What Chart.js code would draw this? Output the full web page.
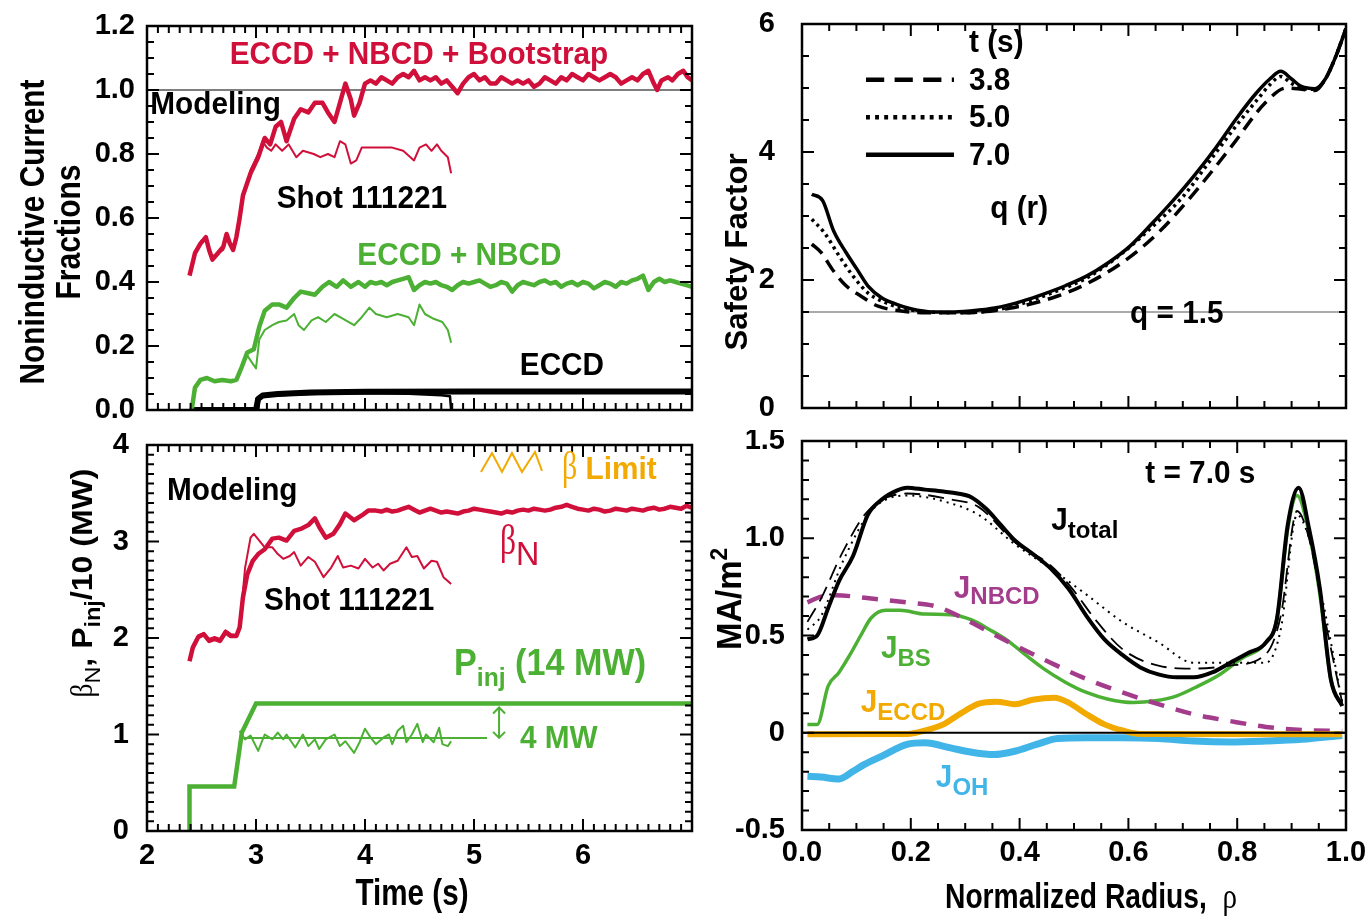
<!DOCTYPE html>
<html>
<head>
<meta charset="utf-8">
<title>Noninductive current fractions, beta and current profiles</title>
<script src="https://cdn.jsdelivr.net/npm/chart.js@4.4.1/dist/chart.umd.min.js"></script>
<style>
  html, body { margin: 0; padding: 0; background: #fff; }
  #wrap { position: relative; width: 1371px; height: 916px; overflow: hidden; background: #fff; }
  #wrap canvas { position: absolute; }
</style>
</head>
<body>
<div id="wrap">
  <canvas id="cTL"></canvas>
  <canvas id="cBL"></canvas>
  <canvas id="cTR"></canvas>
  <canvas id="cBR"></canvas>
</div>
<script>
// ===================== DATA =====================

// top left: noninductive current fractions vs time (s)
const fracAllModel = [[2.39,0.42],[2.44,0.49],[2.49,0.52],[2.54,0.54],[2.57,0.50],[2.60,0.47],[2.65,0.49],[2.70,0.51],[2.73,0.55],[2.76,0.52],[2.79,0.50],[2.82,0.54],[2.85,0.60],[2.88,0.67],[2.95,0.74],[3.02,0.79],[3.08,0.85],[3.13,0.83],[3.18,0.885],[3.23,0.90],[3.28,0.84],[3.35,0.91],[3.41,0.94],[3.48,0.93],[3.54,0.96],[3.61,0.96],[3.66,0.93],[3.72,0.90],[3.77,0.96],[3.82,1.02],[3.87,0.97],[3.90,0.92],[3.95,0.96],[4.00,1.02],[4.05,1.03],[4.10,1.02],[4.15,1.04],[4.20,1.03],[4.25,1.02],[4.30,1.04],[4.35,1.05],[4.40,1.04],[4.45,1.06],[4.50,1.03],[4.55,1.04],[4.60,1.03],[4.65,1.04],[4.70,1.02],[4.75,1.03],[4.80,1.01],[4.85,0.99],[4.90,1.02],[4.95,1.04],[5.00,1.05],[5.05,1.03],[5.10,1.04],[5.15,1.02],[5.20,1.02],[5.25,1.04],[5.30,1.03],[5.35,1.02],[5.40,1.03],[5.45,1.02],[5.50,1.03],[5.55,1.01],[5.60,1.02],[5.65,1.04],[5.70,1.03],[5.75,1.02],[5.80,1.04],[5.85,1.03],[5.90,1.05],[5.95,1.04],[6.00,1.03],[6.05,1.05],[6.10,1.04],[6.15,1.03],[6.20,1.04],[6.25,1.05],[6.30,1.04],[6.35,1.02],[6.40,1.03],[6.45,1.04],[6.50,1.03],[6.55,1.05],[6.60,1.06],[6.65,1.02],[6.68,1.00],[6.72,1.03],[6.78,1.04],[6.82,1.03],[6.87,1.05],[6.92,1.06],[6.96,1.04],[7.00,1.03]];
const fracAllShot = [[2.40,0.43],[2.45,0.50],[2.50,0.53],[2.54,0.53],[2.57,0.50],[2.60,0.48],[2.65,0.49],[2.70,0.50],[2.73,0.54],[2.79,0.51],[2.82,0.53],[2.88,0.66],[2.95,0.75],[3.02,0.80],[3.06,0.84],[3.10,0.82],[3.14,0.81],[3.18,0.83],[3.24,0.81],[3.30,0.83],[3.37,0.79],[3.43,0.81],[3.53,0.80],[3.59,0.79],[3.66,0.80],[3.72,0.79],[3.77,0.84],[3.82,0.83],[3.87,0.77],[3.92,0.78],[3.97,0.82],[4.05,0.82],[4.15,0.82],[4.25,0.82],[4.35,0.81],[4.45,0.78],[4.50,0.82],[4.56,0.83],[4.61,0.81],[4.66,0.83],[4.70,0.81],[4.76,0.79],[4.79,0.74]];
const fracBeamModel = [[2.41,0.0],[2.44,0.07],[2.49,0.094],[2.55,0.10],[2.62,0.09],[2.69,0.094],[2.77,0.09],[2.82,0.094],[2.87,0.135],[2.92,0.18],[2.98,0.19],[3.03,0.26],[3.08,0.31],[3.15,0.33],[3.21,0.33],[3.28,0.32],[3.35,0.35],[3.41,0.37],[3.48,0.365],[3.54,0.36],[3.61,0.385],[3.67,0.40],[3.74,0.385],[3.80,0.405],[3.87,0.385],[3.94,0.40],[4.00,0.385],[4.05,0.40],[4.10,0.395],[4.15,0.40],[4.20,0.39],[4.25,0.40],[4.30,0.405],[4.35,0.41],[4.40,0.415],[4.45,0.375],[4.50,0.39],[4.55,0.40],[4.60,0.395],[4.65,0.40],[4.70,0.39],[4.75,0.385],[4.80,0.375],[4.85,0.39],[4.90,0.40],[4.95,0.395],[5.00,0.40],[5.05,0.405],[5.10,0.395],[5.15,0.385],[5.20,0.39],[5.25,0.40],[5.30,0.395],[5.35,0.37],[5.40,0.39],[5.45,0.40],[5.50,0.395],[5.55,0.39],[5.60,0.40],[5.65,0.405],[5.70,0.395],[5.75,0.40],[5.80,0.385],[5.85,0.395],[5.90,0.40],[5.95,0.39],[6.00,0.40],[6.05,0.395],[6.10,0.38],[6.15,0.39],[6.20,0.40],[6.25,0.395],[6.30,0.385],[6.35,0.40],[6.40,0.395],[6.45,0.405],[6.50,0.41],[6.55,0.42],[6.60,0.375],[6.65,0.40],[6.70,0.41],[6.75,0.40],[6.80,0.405],[6.85,0.40],[6.90,0.395],[6.95,0.39],[7.00,0.385]];
const fracBeamShot = [[2.41,0.0],[2.44,0.07],[2.49,0.094],[2.55,0.10],[2.62,0.09],[2.69,0.094],[2.77,0.09],[2.82,0.094],[2.87,0.135],[2.92,0.17],[2.97,0.145],[3.00,0.13],[3.03,0.22],[3.08,0.25],[3.15,0.265],[3.21,0.275],[3.28,0.28],[3.35,0.30],[3.39,0.265],[3.44,0.25],[3.51,0.28],[3.57,0.29],[3.64,0.275],[3.72,0.30],[3.80,0.285],[3.90,0.265],[3.97,0.29],[4.04,0.32],[4.10,0.30],[4.20,0.29],[4.30,0.30],[4.40,0.29],[4.45,0.265],[4.50,0.33],[4.55,0.30],[4.63,0.285],[4.71,0.275],[4.76,0.25],[4.79,0.21]];
const fracEccdModel = [[2.41,0],[3.00,0],[3.02,0.035],[3.06,0.045],[3.20,0.05],[3.50,0.055],[4.00,0.057],[5.00,0.058],[7.00,0.058]];
const fracEccdShot = [[2.41,0],[3.02,0],[3.03,0.042],[3.30,0.048],[3.70,0.052],[4.00,0.053],[4.40,0.051],[4.70,0.046],[4.78,0.043],[4.79,0]];
const fracUnity = [[2, 1.0], [7, 1.0]];

// bottom left: beta_N and Pinj/10 (MW) vs time (s)
const betaModel = [[2.39,1.76],[2.42,1.90],[2.47,2.01],[2.52,2.04],[2.57,1.97],[2.62,1.99],[2.67,1.97],[2.72,2.06],[2.77,2.02],[2.82,2.02],[2.85,2.11],[2.88,2.42],[2.92,2.66],[2.97,2.80],[3.02,2.87],[3.08,2.92],[3.15,3.03],[3.21,3.04],[3.28,3.01],[3.35,3.11],[3.41,3.13],[3.48,3.17],[3.54,3.24],[3.58,3.15],[3.64,3.04],[3.71,3.08],[3.77,3.18],[3.82,3.29],[3.90,3.22],[3.97,3.27],[4.03,3.32],[4.10,3.32],[4.15,3.31],[4.20,3.33],[4.25,3.31],[4.30,3.32],[4.35,3.34],[4.40,3.36],[4.45,3.33],[4.50,3.30],[4.55,3.32],[4.60,3.34],[4.65,3.32],[4.70,3.30],[4.75,3.31],[4.80,3.30],[4.85,3.29],[4.90,3.31],[4.95,3.32],[5.00,3.34],[5.05,3.33],[5.10,3.32],[5.15,3.31],[5.20,3.30],[5.25,3.29],[5.30,3.31],[5.35,3.30],[5.40,3.32],[5.45,3.33],[5.50,3.32],[5.55,3.34],[5.60,3.33],[5.65,3.32],[5.70,3.33],[5.75,3.35],[5.80,3.36],[5.85,3.38],[5.90,3.36],[5.95,3.34],[6.00,3.33],[6.05,3.32],[6.10,3.34],[6.15,3.33],[6.20,3.31],[6.25,3.32],[6.30,3.34],[6.35,3.33],[6.40,3.32],[6.45,3.34],[6.50,3.33],[6.55,3.32],[6.60,3.34],[6.65,3.35],[6.70,3.33],[6.75,3.34],[6.80,3.36],[6.85,3.35],[6.90,3.34],[6.95,3.37],[7.00,3.35]];
const betaShot = [[2.39,1.78],[2.42,1.92],[2.47,2.03],[2.52,2.05],[2.57,1.99],[2.62,2.01],[2.67,1.99],[2.72,2.08],[2.77,2.04],[2.82,2.03],[2.85,2.11],[2.90,2.73],[2.95,3.04],[2.98,3.08],[3.03,3.01],[3.08,2.94],[3.15,2.94],[3.20,2.87],[3.25,2.82],[3.31,2.85],[3.35,2.89],[3.41,2.75],[3.48,2.84],[3.54,2.79],[3.62,2.63],[3.69,2.73],[3.75,2.85],[3.80,2.73],[3.87,2.75],[3.94,2.72],[4.00,2.82],[4.07,2.73],[4.12,2.77],[4.17,2.70],[4.23,2.77],[4.30,2.80],[4.38,2.94],[4.43,2.84],[4.48,2.85],[4.54,2.72],[4.61,2.80],[4.66,2.79],[4.72,2.63],[4.79,2.56]];
const pinjModel = [[2.39,0],[2.39,0.46],[2.80,0.46],[2.87,1.02],[3.00,1.32],[7.00,1.32]];
const pinjShot = [[2.85,1.04],[2.87,1.00],[2.90,0.95],[2.95,0.99],[3.02,0.83],[3.08,1.00],[3.15,0.95],[3.20,1.02],[3.25,0.95],[3.28,1.00],[3.36,0.865],[3.43,1.00],[3.48,0.88],[3.54,0.95],[3.58,0.85],[3.64,0.95],[3.72,1.00],[3.77,0.88],[3.82,0.93],[3.90,0.81],[3.95,0.92],[4.00,1.06],[4.05,0.97],[4.10,0.90],[4.17,0.97],[4.22,1.00],[4.25,0.90],[4.30,1.04],[4.35,1.09],[4.38,0.92],[4.43,1.00],[4.48,1.11],[4.53,0.92],[4.56,1.00],[4.63,0.92],[4.68,1.07],[4.71,0.90],[4.76,0.88],[4.79,0.93]];
const pinjShotLevel = [[2.87,0.965],[5.12,0.965]];
const powerStep = [5.23, 1.28, 0.965];   // time, Pinj model / 10, Pinj shot / 10

// top right: safety factor q(rho) at three times
const q38 = [[0.018,2.56],[0.035,2.43],[0.058,2.14],[0.081,1.91],[0.108,1.75],[0.14,1.59],[0.18,1.52],[0.22,1.49],[0.30,1.49],[0.39,1.57],[0.47,1.75],[0.523,1.94],[0.59,2.28],[0.655,2.74],[0.72,3.35],[0.787,4.06],[0.853,4.78],[0.89,5.0],[0.919,4.98],[0.943,4.96],[0.962,5.14],[0.982,5.51],[1.0,5.93]];
const q50 = [[0.018,2.95],[0.041,2.74],[0.068,2.38],[0.094,2.06],[0.121,1.80],[0.147,1.67],[0.18,1.57],[0.22,1.51],[0.28,1.49],[0.34,1.51],[0.40,1.62],[0.46,1.80],[0.523,2.03],[0.58,2.36],[0.64,2.80],[0.70,3.30],[0.76,3.98],[0.80,4.43],[0.84,4.85],[0.86,5.05],[0.88,5.18],[0.90,5.07],[0.92,4.99],[0.943,4.98],[0.962,5.14],[0.982,5.51],[1.0,5.93]];
const q70 = [[0.018,3.34],[0.038,3.24],[0.058,2.77],[0.081,2.43],[0.101,2.17],[0.121,1.91],[0.147,1.72],[0.174,1.62],[0.20,1.55],[0.24,1.50],[0.28,1.50],[0.325,1.53],[0.365,1.58],[0.405,1.67],[0.444,1.78],[0.484,1.91],[0.523,2.06],[0.563,2.27],[0.603,2.53],[0.642,2.87],[0.682,3.24],[0.721,3.63],[0.761,4.07],[0.80,4.54],[0.834,4.91],[0.86,5.14],[0.88,5.26],[0.90,5.14],[0.919,5.02],[0.943,4.99],[0.962,5.14],[0.982,5.51],[1.0,5.93]];
const qTimes = ['3.8', '5.0', '7.0'];
const qRational = [[0, 1.5], [1, 1.5]];

// bottom right: current density profiles (MA/m2) at t = 7.0 s
const jTotal = [[0.01,0.48],[0.028,0.50],[0.048,0.64],[0.068,0.78],[0.094,0.91],[0.121,1.12],[0.147,1.20],[0.174,1.245],[0.193,1.26],[0.226,1.25],[0.26,1.24],[0.286,1.23],[0.312,1.21],[0.339,1.15],[0.365,1.07],[0.391,0.99],[0.424,0.92],[0.457,0.845],[0.49,0.74],[0.523,0.60],[0.556,0.48],[0.589,0.40],[0.622,0.336],[0.655,0.30],[0.689,0.285],[0.72,0.285],[0.754,0.31],[0.787,0.36],[0.82,0.41],[0.853,0.465],[0.873,0.586],[0.893,1.07],[0.913,1.26],[0.932,1.05],[0.952,0.74],[0.972,0.276],[0.993,0.138]];
const jTotalDash = [[0.01,0.57],[0.035,0.69],[0.075,0.93],[0.121,1.14],[0.193,1.23],[0.273,1.20],[0.325,1.16],[0.391,0.98],[0.457,0.86],[0.497,0.74],[0.537,0.59],[0.589,0.43],[0.655,0.345],[0.72,0.33],[0.787,0.345],[0.853,0.405],[0.88,0.60],[0.91,1.14],[0.932,1.0],[0.96,0.60],[0.993,0.155]];
const jTotalDot = [[0.01,0.53],[0.035,0.60],[0.075,0.88],[0.127,1.14],[0.193,1.22],[0.273,1.18],[0.325,1.12],[0.391,0.97],[0.457,0.845],[0.523,0.71],[0.589,0.57],[0.655,0.465],[0.72,0.36],[0.787,0.36],[0.853,0.36],[0.88,0.53],[0.91,1.12],[0.932,1.0],[0.96,0.64],[0.993,0.155]];
const jBootstrap = [[0.01,0.043],[0.028,0.043],[0.048,0.24],[0.068,0.31],[0.088,0.40],[0.108,0.50],[0.127,0.59],[0.154,0.63],[0.18,0.63],[0.226,0.61],[0.273,0.607],[0.312,0.58],[0.345,0.53],[0.378,0.474],[0.411,0.40],[0.444,0.33],[0.484,0.26],[0.523,0.207],[0.563,0.172],[0.609,0.155],[0.649,0.164],[0.689,0.19],[0.728,0.24],[0.768,0.30],[0.807,0.38],[0.853,0.465],[0.873,0.586],[0.893,1.05],[0.91,1.22],[0.932,1.03],[0.952,0.71],[0.972,0.276],[0.993,0.138]];
const jBeam = [[0.01,0.67],[0.035,0.70],[0.061,0.707],[0.127,0.69],[0.193,0.67],[0.246,0.65],[0.292,0.595],[0.345,0.517],[0.391,0.45],[0.457,0.36],[0.523,0.276],[0.589,0.207],[0.655,0.147],[0.72,0.095],[0.787,0.06],[0.853,0.03],[0.919,0.014],[0.993,0.009]];
const jEccd = [[0.01,-0.008],[0.193,-0.006],[0.233,0.017],[0.26,0.043],[0.292,0.10],[0.325,0.15],[0.358,0.16],[0.391,0.147],[0.424,0.17],[0.464,0.18],[0.49,0.155],[0.523,0.095],[0.556,0.043],[0.589,0.012],[0.622,-0.006],[0.993,-0.008]];
const jOhmic = [[0.01,-0.224],[0.035,-0.228],[0.068,-0.238],[0.094,-0.198],[0.114,-0.164],[0.147,-0.12],[0.193,-0.06],[0.226,-0.052],[0.273,-0.078],[0.312,-0.10],[0.352,-0.112],[0.391,-0.095],[0.431,-0.06],[0.47,-0.03],[0.523,-0.026],[0.589,-0.026],[0.655,-0.03],[0.72,-0.043],[0.787,-0.048],[0.853,-0.043],[0.919,-0.034],[0.993,-0.014]];
const jZero = [[0, 0], [1, 0]];

// tick values and labels
const timeTicks = [2, 3, 4, 5, 6, 7];
const timeTickLabels = ['2', '3', '4', '5', '6', ''];
const fracTicks = [0, 0.2, 0.4, 0.6, 0.8, 1.0, 1.2];
const fracTickLabels = ['0.0', '0.2', '0.4', '0.6', '0.8', '1.0', '1.2'];
const betaTicks = [0, 1, 2, 3, 4];
const betaTickLabels = ['0', '1', '2', '3', '4'];
const rhoTicks = [0, 0.2, 0.4, 0.6, 0.8, 1.0];
const rhoTickLabels = ['0.0', '0.2', '0.4', '0.6', '0.8', '1.0'];
const qTicks = [0, 2, 4, 6];
const qTickLabels = ['0', '2', '4', '6'];
const jTicks = [-0.5, 0, 0.5, 1.0, 1.5];
const jTickLabels = ['-0.5', '0', '0.5', '1.0', '1.5'];

// ===================== STYLE =====================
const SANS = '"Liberation Sans", Arial, Helvetica, sans-serif';
const SERIF = '"Liberation Serif", "DejaVu Serif", serif';
const RED = '#d0103a';
const GREEN = '#4cb034';
const ORANGE = '#f2a900';
const BLUE = '#42b5e8';
const PURPLE = '#a43c8c';
const BLACK = '#000000';

// text pieces
const b = (t, size = 32, sx = 0.93) => ({ t, size, sx });
const sub = (t, size = 24, dy = 8) => ({ t, size, dy });
const greek = (t, size = 38, sx = 0.8, dy = 0) => ({ t, size, sx, dy, weight: 'normal', family: SERIF });

function fontOf(s) {
  return (s.weight || 'bold') + ' ' + (s.size || 32) + 'px ' + (s.family || SANS);
}

// draws a run of text pieces (subscripts etc.), optionally rotated and squeezed to a width
function drawRich(ctx, x, y, note) {
  const segs = note.segs;
  ctx.save();
  ctx.translate(x, y);
  if (note.rot) ctx.rotate(-Math.PI / 2);
  const ws = segs.map(s => { ctx.font = fontOf(s); return ctx.measureText(s.t).width * (s.sx || 1); });
  const total = ws.reduce((a, c) => a + c, 0);
  if (note.w) ctx.scale(note.w / total, 1);
  let cx = note.align === 'center' ? -total / 2 : 0;
  ctx.textBaseline = 'alphabetic';
  ctx.textAlign = 'left';
  segs.forEach((s, i) => {
    ctx.font = fontOf(s);
    ctx.fillStyle = s.color || note.color || BLACK;
    ctx.save();
    ctx.translate(cx, s.dy || 0);
    ctx.scale(s.sx || 1, 1);
    ctx.fillText(s.t, 0, 0);
    ctx.restore();
    cx += ws[i];
  });
  ctx.restore();
}

// box frame with inward major/minor ticks on all four sides
function drawFrame(chart, fr) {
  const { ctx, chartArea: a, scales: { x, y } } = chart;
  ctx.save();
  ctx.strokeStyle = BLACK;
  ctx.lineWidth = 2;
  ctx.beginPath();
  const walk = (scale, minor, major, fn) => {
    const n = Math.round((scale.max - scale.min) / minor);
    for (let i = 0; i <= n; i++) {
      const v = scale.min + i * minor;
      const r = v / major;
      fn(scale.getPixelForValue(v), Math.abs(r - Math.round(r)) < 1e-6 ? 12 : 7);
    }
  };
  walk(x, fr.xMinor, fr.xMajor, (p, len) => {
    ctx.moveTo(p, a.bottom); ctx.lineTo(p, a.bottom - len);
    ctx.moveTo(p, a.top); ctx.lineTo(p, a.top + len);
  });
  walk(y, fr.yMinor, fr.yMajor, (p, len) => {
    ctx.moveTo(a.left, p); ctx.lineTo(a.left + len, p);
    ctx.moveTo(a.right, p); ctx.lineTo(a.right - len, p);
  });
  ctx.stroke();
  ctx.lineWidth = 2.5;
  ctx.strokeRect(a.left, a.top, a.right - a.left, a.bottom - a.top);
  ctx.restore();
}

function line(arr, color, width, extra) {
  return Object.assign({
    data: arr.map(p => ({ x: p[0], y: p[1] })),
    borderColor: color, borderWidth: width, pointRadius: 0, fill: false,
    tension: 0, borderJoinStyle: 'round', borderCapStyle: 'butt'
  }, extra || {});
}

function axis(ax, size) {
  return {
    type: 'linear', min: ax.min, max: ax.max,
    grid: { display: false, drawTicks: false },
    border: { display: false },
    ticks: {
      display: !!ax.labels, autoSkip: false, maxRotation: 0, padding: ax.pad || 0, color: BLACK,
      font: { family: SANS, size: 29, weight: 'bold' },
      callback: (v, i) => (ax.labels ? ax.labels[i] : '')
    },
    afterBuildTicks: s => { s.ticks = ax.ticks.map(v => ({ value: v })); },
    afterFit: s => {
      if (s.isHorizontal()) s.height = size; else s.width = size;
      s.paddingLeft = s.paddingRight = s.paddingTop = s.paddingBottom = 0;
    }
  };
}

// one panel = one canvas; box is the canvas on the page, plot the wanted chart area
function panel(spec) {
  const { box, plot } = spec;
  const cv = document.getElementById(spec.id);
  cv.width = box.w;
  cv.height = box.h;
  cv.style.left = box.left + 'px';
  cv.style.top = box.top + 'px';
  return new Chart(cv, {
    type: 'line',
    data: { datasets: spec.datasets },
    options: {
      responsive: false, animation: false, events: [], devicePixelRatio: 1,
      layout: { padding: { left: 0, top: plot.t - box.top, right: box.left + box.w - plot.r, bottom: 0 } },
      scales: { x: axis(spec.x, box.top + box.h - plot.b), y: axis(spec.y, plot.l - box.left) },
      plugins: { legend: { display: false }, tooltip: { enabled: false } }
    },
    plugins: [{
      id: 'deco_' + spec.id,
      afterDraw(chart) {
        drawFrame(chart, spec.frame);
        const { ctx, scales: { x, y } } = chart;
        spec.notes.forEach(n => drawRich(ctx, x.getPixelForValue(n.x), y.getPixelForValue(n.y), n));
        spec.titles.forEach(t => drawRich(ctx, t.px - box.left, t.py - box.top, Object.assign({ align: 'center' }, t)));
        if (spec.extra) spec.extra(chart);
      }
    }]
  });
}

// ===================== TOP LEFT: CURRENT FRACTIONS =====================
panel({
  id: 'cTL',
  box: { left: 0, top: 0, w: 705, h: 430 },
  plot: { l: 147, t: 26, r: 692, b: 410 },
  x: { min: 2, max: 7, ticks: timeTicks },
  y: { min: 0, max: 1.2, ticks: fracTicks, labels: fracTickLabels, pad: 12 },
  frame: { xMinor: 0.1, xMajor: 1, yMinor: 0.05, yMajor: 0.2 },
  datasets: [
    line(fracAllShot, RED, 2),
    line(fracBeamShot, GREEN, 2),
    line(fracEccdShot, BLACK, 2.5),
    line(fracAllModel, RED, 4.5),
    line(fracBeamModel, GREEN, 4.5),
    line(fracEccdModel, BLACK, 6),
    line(fracUnity, BLACK, 1.2)
  ],
  notes: [
    { x: 4.495, y: 1.081, align: 'center', color: RED, segs: [b('ECCD + NBCD + Bootstrap')] },
    { x: 2.03, y: 0.925, segs: [b('Modeling')] },
    { x: 3.19, y: 0.631, segs: [b('Shot 111221')] },
    { x: 3.93, y: 0.453, color: GREEN, segs: [b('ECCD + NBCD')] },
    { x: 5.42, y: 0.109, segs: [b('ECCD')] }
  ],
  titles: [
    { px: 44, py: 232, rot: true, w: 305, segs: [b('Noninductive Current', 35, 1)] },
    { px: 80, py: 232, rot: true, w: 135, segs: [b('Fractions', 35, 1)] }
  ]
});

// ===================== BOTTOM LEFT: BETA_N AND INJECTED POWER =====================
const limitAt = [5.807, 3.648];
const limitZigzag = [[-81, -7], [-70, -26], [-60, -7], [-50, -26], [-40, -7], [-27, -27], [-20, -8]];

panel({
  id: 'cBL',
  box: { left: 0, top: 430, w: 705, h: 486 },
  plot: { l: 147, t: 445, r: 692, b: 831 },
  x: { min: 2, max: 7, ticks: timeTicks, labels: timeTickLabels, pad: 8 },
  y: { min: 0, max: 4, ticks: betaTicks, labels: betaTickLabels, pad: 18 },
  frame: { xMinor: 0.1, xMajor: 1, yMinor: 0.1, yMajor: 1 },
  datasets: [
    line(betaShot, RED, 2),
    line(pinjShot, GREEN, 2),
    line(pinjShotLevel, GREEN, 2),
    line(betaModel, RED, 4.5),
    line(pinjModel, GREEN, 4.5, { borderJoinStyle: 'miter' })
  ],
  notes: [
    { x: limitAt[0], y: limitAt[1], color: ORANGE, segs: [greek('\u03b2', 40, 0.75), b(' Limit')] },
    { x: 2.183, y: 3.43, segs: [b('Modeling')] },
    { x: 5.239, y: 2.87, color: RED, segs: [greek('\u03b2', 42, 0.75), { t: 'N', size: 34, weight: 'normal', dy: 11, sx: 0.95 }] },
    { x: 3.073, y: 2.29, segs: [b('Shot 111221')] },
    { x: 4.817, y: 1.617, color: GREEN, w: 192, segs: [b('P', 36, 1), sub('inj', 26, 11), b(' (14 MW)', 36, 1)] },
    { x: 5.422, y: 0.86, color: GREEN, segs: [b('4 MW')] }
  ],
  titles: [
    { px: 412, py: 905, w: 113, segs: [b('Time (s)', 36, 1)] },
    { px: 92, py: 583, rot: true, w: 229, segs: [greek('\u03b2', 32, 0.8), { t: 'N', size: 22, weight: 'normal', dy: 8 }, b(', ', 30, 1), b('P', 30, 1), sub('inj', 22, 8), b('/10 (MW)', 30, 1)] }
  ],
  extra(chart) {
    const { ctx, scales: { x, y } } = chart;
    const ax = x.getPixelForValue(powerStep[0]);
    const a1 = y.getPixelForValue(powerStep[1]);
    const a2 = y.getPixelForValue(powerStep[2]);
    ctx.save();
    ctx.strokeStyle = GREEN;
    ctx.lineWidth = 2;
    ctx.beginPath();
    ctx.moveTo(ax, a1); ctx.lineTo(ax, a2);
    ctx.moveTo(ax - 6, a1 + 6); ctx.lineTo(ax, a1); ctx.lineTo(ax + 6, a1 + 6);
    ctx.moveTo(ax - 6, a2 - 6); ctx.lineTo(ax, a2); ctx.lineTo(ax + 6, a2 - 6);
    ctx.stroke();
    const zx = x.getPixelForValue(limitAt[0]);
    const zy = y.getPixelForValue(limitAt[1]);
    ctx.strokeStyle = ORANGE;
    ctx.beginPath();
    limitZigzag.forEach(([dx, dy], i) => (i ? ctx.lineTo(zx + dx, zy + dy) : ctx.moveTo(zx + dx, zy + dy)));
    ctx.stroke();
    ctx.restore();
  }
});

// ===================== TOP RIGHT: SAFETY FACTOR =====================
const qLegendAt = [0.307, 5.56];

panel({
  id: 'cTR',
  box: { left: 705, top: 0, w: 666, h: 430 },
  plot: { l: 802, t: 24, r: 1346, b: 408 },
  x: { min: 0, max: 1, ticks: rhoTicks },
  y: { min: 0, max: 6, ticks: qTicks, labels: qTickLabels, pad: 27 },
  frame: { xMinor: 0.05, xMajor: 0.2, yMinor: 0.5, yMajor: 2 },
  datasets: [
    line(q38, BLACK, 3.5, { label: qTimes[0], borderDash: [14, 8], cubicInterpolationMode: 'monotone' }),
    line(q50, BLACK, 3.5, { label: qTimes[1], borderDash: [3, 4], cubicInterpolationMode: 'monotone' }),
    line(q70, BLACK, 3.5, { label: qTimes[2], cubicInterpolationMode: 'monotone' }),
    line(qRational, '#555555', 1.2)
  ],
  notes: [
    { x: 0.346, y: 2.97, segs: [b('q (r)')] },
    { x: 0.603, y: 1.33, segs: [b('q = 1.5')] }
  ],
  titles: [
    { px: 747, py: 252, rot: true, w: 197, segs: [b('Safety Factor', 32, 1)] }
  ],
  extra(chart) {
    const { ctx, scales: { x, y } } = chart;
    const lx = x.getPixelForValue(qLegendAt[0]);
    const ly = y.getPixelForValue(qLegendAt[1]);
    drawRich(ctx, lx, ly, { segs: [b('t (s)')] });
    [0, 1, 2].forEach((idx, i) => {
      const ds = chart.data.datasets[idx];
      const by = ly + 37.5 * (i + 1);
      ctx.save();
      ctx.strokeStyle = ds.borderColor;
      ctx.lineWidth = ds.borderWidth + 1;
      ctx.setLineDash(ds.borderDash ? ds.borderDash.map(d => d * 1.3) : []);
      ctx.beginPath();
      ctx.moveTo(lx - 103, by - 10);
      ctx.lineTo(lx - 15, by - 10);
      ctx.stroke();
      ctx.restore();
      drawRich(ctx, lx, by, { segs: [b(ds.label)] });
    });
  }
});

// ===================== BOTTOM RIGHT: CURRENT DENSITY PROFILES =====================
panel({
  id: 'cBR',
  box: { left: 705, top: 430, w: 666, h: 486 },
  plot: { l: 802, t: 441, r: 1346, b: 830 },
  x: { min: 0, max: 1, ticks: rhoTicks, labels: rhoTickLabels, pad: 6 },
  y: { min: -0.5, max: 1.5, ticks: jTicks, labels: jTickLabels, pad: 17 },
  frame: { xMinor: 0.05, xMajor: 0.2, yMinor: 0.1, yMajor: 0.5 },
  datasets: [
    line(jTotal, BLACK, 4, { cubicInterpolationMode: 'monotone' }),
    line(jTotalDash, BLACK, 1.8, { borderDash: [16, 8], cubicInterpolationMode: 'monotone' }),
    line(jTotalDot, BLACK, 2, { borderDash: [2, 5], cubicInterpolationMode: 'monotone' }),
    line(jZero, BLACK, 2),
    line(jEccd, ORANGE, 6, { cubicInterpolationMode: 'monotone' }),
    line(jBeam, PURPLE, 4.5, { borderDash: [16, 12], cubicInterpolationMode: 'monotone' }),
    line(jBootstrap, GREEN, 3.5, { cubicInterpolationMode: 'monotone' }),
    line(jOhmic, BLUE, 7, { cubicInterpolationMode: 'monotone' })
  ],
  notes: [
    { x: 0.631, y: 1.285, segs: [b('t = 7.0 s')] },
    { x: 0.458, y: 1.044, segs: [b('J'), sub('total')] },
    { x: 0.279, y: 0.694, color: PURPLE, segs: [b('J'), sub('NBCD', 24, 6)] },
    { x: 0.145, y: 0.386, color: GREEN, segs: [b('J'), sub('BS')] },
    { x: 0.108, y: 0.108, color: ORANGE, segs: [b('J'), sub('ECCD')] },
    { x: 0.246, y: -0.278, color: BLUE, segs: [b('J'), sub('OH')] }
  ],
  titles: [
    { px: 741, py: 599, rot: true, w: 102, segs: [b('MA/m', 35, 1), { t: '2', size: 24, dy: -14 }] },
    { px: 1091, py: 908, w: 292, segs: [b('Normalized Radius,  ', 35, 1), greek('\u03c1', 36, 1)] }
  ]
});
</script>
</body>
</html>
